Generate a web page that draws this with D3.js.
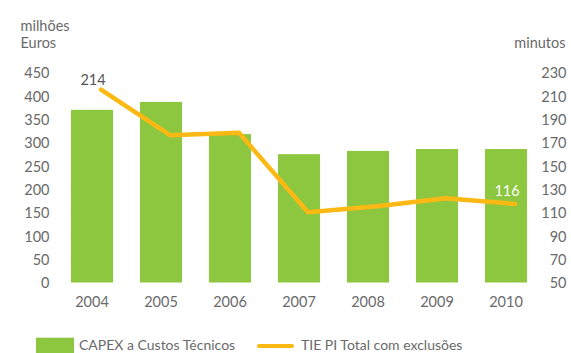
<!DOCTYPE html>
<html>
<head>
<meta charset="utf-8">
<script src="https://cdn.jsdelivr.net/npm/d3@7"></script>
<style>
  html, body { margin: 0; padding: 0; background: #fff; }
  svg { display: block; }
  text { font-family: Lato, "Noto Sans", sans-serif; fill: #6a6a6a; font-size: 14.5px; }
  .legend text { font-size: 14px; }
</style>
</head>
<body>
<svg id="chart" width="571" height="353"></svg>
<script>
// Investment (million euros) and interruption time (minutes) per year
const years = ["2004", "2005", "2006", "2007", "2008", "2009", "2010"];
const capex = [370, 387, 318, 275, 282, 286, 286];
const tiepi = [214, 175, 177, 109, 114, 121, 116];
const leftTicks = [0, 50, 100, 150, 200, 250, 300, 350, 400, 450];
const rightTicks = [50, 70, 90, 110, 130, 150, 170, 190, 210, 230];
const labelledYears = ["2004", "2010"];

const green = "#8dc63f";
const orange = "#fdb913";

const svg = d3.select("#chart");

const x = d3.scaleBand()
  .domain(years)
  .range([57.5, 540.5])
  .paddingInner(0.39)
  .paddingOuter(0.195);

const yLeft = d3.scaleLinear().domain([0, 450]).range([282.5, 72.5]);
const yRight = d3.scaleLinear().domain([50, 230]).range([281, 71]);

// bars
svg.append("g")
  .selectAll("rect")
  .data(years)
  .join("rect")
  .attr("x", d => x(d))
  .attr("width", x.bandwidth())
  .attr("y", (d, i) => yLeft(capex[i]))
  .attr("height", (d, i) => yLeft(0) - yLeft(capex[i]))
  .attr("fill", green);

// line, points sit a little right of the bar centres
const lineShift = 9;
const lx = d => x(d) + x.bandwidth() / 2 + lineShift;
const line = d3.line()
  .x((d, i) => lx(years[i]))
  .y(d => yRight(d));

svg.append("path")
  .datum(tiepi)
  .attr("d", line)
  .attr("fill", "none")
  .attr("stroke", orange)
  .attr("stroke-width", 4.5)
  .attr("stroke-linejoin", "round")
  .attr("stroke-linecap", "round");

// value labels on first and last points
const labelStyle = {
  "2004": { fill: "#555", dy: -4.5 },
  "2010": { fill: "#fff", dy: -8 }
};
svg.append("g")
  .selectAll("text")
  .data(labelledYears)
  .join("text")
  .attr("x", d => x(d) + x.bandwidth() / 2 + 1)
  .attr("y", d => yRight(tiepi[years.indexOf(d)]) + labelStyle[d].dy)
  .attr("text-anchor", "middle")
  .style("fill", d => labelStyle[d].fill)
  .text(d => tiepi[years.indexOf(d)]);

// left axis
const leftAxis = d3.axisLeft(yLeft).tickValues(leftTicks).tickSize(0).tickPadding(0);
const gl = svg.append("g").attr("transform", "translate(49.5,0)").call(leftAxis);
gl.select(".domain").remove();
gl.selectAll("text").attr("font-size", null).attr("font-family", null).attr("dy", "0.36em");

// right axis
const rightAxis = d3.axisRight(yRight).tickValues(rightTicks).tickSize(0).tickPadding(0);
const gr = svg.append("g").attr("transform", "translate(566.5,0)").call(rightAxis);
gr.select(".domain").remove();
gr.selectAll("text").attr("font-size", null).attr("font-family", null)
  .attr("text-anchor", "end").attr("dy", "0.36em").attr("y", 1.5);

// bottom axis
const bottomAxis = d3.axisBottom(x).tickSize(0).tickPadding(0);
const gb = svg.append("g").attr("transform", "translate(0,296.5)").call(bottomAxis);
gb.select(".domain").remove();
gb.selectAll("text").attr("font-size", null).attr("font-family", null).attr("dy", "0.71em");

// axis titles
svg.append("text").attr("x", 20.5).attr("y", 30.5).text("milhões");
svg.append("text").attr("x", 20.5).attr("y", 47.5).text("Euros");
svg.append("text").attr("x", 565.5).attr("y", 48).attr("text-anchor", "end").text("minutos");

// legend
const legend = svg.append("g").attr("class", "legend");
legend.append("rect").attr("x", 36).attr("y", 337.7).attr("width", 38).attr("height", 16).attr("fill", green);
legend.append("text").attr("x", 79).attr("y", 349.5).text("CAPEX a Custos Técnicos");
legend.append("line").attr("x1", 259).attr("x2", 292).attr("y1", 346).attr("y2", 346)
  .attr("stroke", orange).attr("stroke-width", 4).attr("stroke-linecap", "round");
legend.append("text").attr("x", 301).attr("y", 349.5).text("TIE PI Total com exclusões");
</script>
</body>
</html>
